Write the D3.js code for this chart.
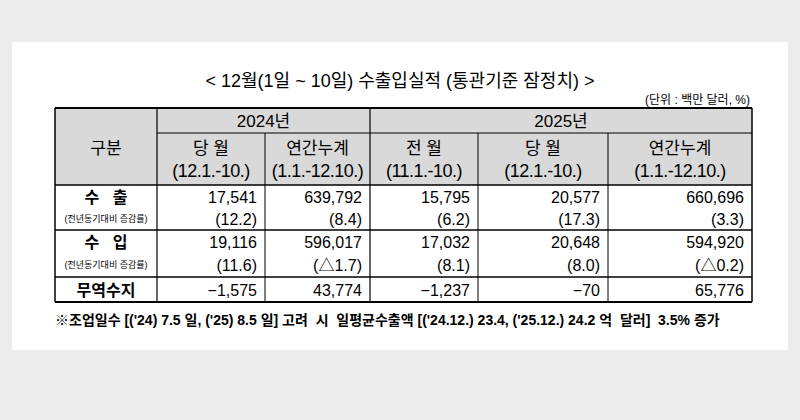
<!DOCTYPE html><html><head><meta charset="utf-8"><script src="https://cdn.jsdelivr.net/npm/d3@7"></script>
<style>body{margin:0;background:#ececec}text{font-family:"Liberation Sans","Noto Sans CJK KR",sans-serif}</style></head><body>
<svg id="c" width="800" height="420"></svg>
<script>
const title="< 12월(1일 ~ 10일) 수출입실적 (통관기준 잠정치) >";
const unit="(단위 : 백만 달러, %)";
const yearHeaders=["2024년","2025년"];
const colHeads=[["당 월","(12.1.-10.)"],["연간누계","(1.1.-12.10.)"],["전 월","(11.1.-10.)"],["당 월","(12.1.-10.)"],["연간누계","(1.1.-12.10.)"]];
const rowNames=["수   출","수   입","무역수지"];
const exportVals=["17,541","639,792","15,795","20,577","660,696"];
const exportRates=["(12.2)","(8.4)","(6.2)","(17.3)","(3.3)"];
const importVals=["19,116","596,017","17,032","20,648","594,920"];
const importRates=["(11.6)","(△1.7)","(8.1)","(8.0)","(△0.2)"];
const balanceVals=["−1,575","43,774","−1,237","−70","65,776"];
const footnote="※조업일수 [('24) 7.5 일, ('25) 8.5 일] 고려  시  일평균수출액 [('24.12.) 23.4, ('25.12.) 24.2 억  달러]  3.5% 증가";
const svg=d3.select("#c");
svg.append("rect").attr("x",12).attr("y",42).attr("width",776).attr("height",308).attr("fill","#fff");
const colEdges=[55,157,265,370,478,608,752];
const x=i=>colEdges[i];
const rowEdges=[108,133,185,230,277,302];
const y=i=>rowEdges[i];
svg.append("rect").attr("x",x(0)).attr("y",y(0)).attr("width",x(6)-x(0)).attr("height",y(2)-y(0)).attr("fill","#d9d9d9");
svg.append("text").attr("x",400).attr("y",87).attr("text-anchor","middle").attr("font-size",18).text(title);
svg.append("text").attr("x",750).attr("y",104).attr("text-anchor","end").attr("font-size",12).text(unit);
const ln=(x1,y1,x2,y2,w)=>svg.append("line").attr("x1",x1).attr("y1",y1).attr("x2",x2).attr("y2",y2).attr("stroke","#000").attr("stroke-width",w||1);
ln(x(0),y(0),x(6),y(0),2);ln(x(0),y(5),x(6),y(5),2);
ln(x(0),y(2),x(6),y(2),1.5);
ln(x(1),y(1),x(6),y(1));ln(x(0),y(3),x(6),y(3),1.5);ln(x(0),y(4),x(6),y(4),1.5);
ln(x(0),y(0),x(0),y(5),1.5);ln(x(6),y(0),x(6),y(5),1.5);
[1,3].forEach(i=>ln(x(i),y(0),x(i),y(5),1.2));
[2,4,5].forEach(i=>ln(x(i),y(1),x(i),y(5)));
const t=(tx,ty,s,sz,anchor)=>svg.append("text").attr("x",tx).attr("y",ty).attr("font-size",sz).attr("text-anchor",anchor||"middle").text(s);
t((x(1)+x(3))/2,y(0)+19,yearHeaders[0],17);t((x(3)+x(6))/2,y(0)+19,yearHeaders[1],17);
t((x(0)+x(1))/2,y(1)+21,"구분",17);
colHeads.forEach((h,i)=>{const cx=(x(i+1)+x(i+2))/2;t(cx,y(1)+21,h[0],17);t(cx,y(1)+44,h[1],18).attr("font-family","Liberation Serif").attr("letter-spacing",-0.5);});
const cw=i=>x(i+2)-8;
t((x(0)+x(1))/2,y(2)+18,rowNames[0],16).attr("font-weight","bold").style("white-space","pre");
t((x(0)+x(1))/2,y(2)+37,"(전년동기대비 증감률)",9);
t((x(0)+x(1))/2,y(3)+18,rowNames[1],16).attr("font-weight","bold").style("white-space","pre");
t((x(0)+x(1))/2,y(3)+38,"(전년동기대비 증감률)",9);
t((x(0)+x(1))/2,y(4)+19,rowNames[2],16).attr("font-weight","bold");
exportVals.forEach((v,i)=>{t(cw(i),y(2)+18,v,16,"end");t(cw(i),y(2)+40,exportRates[i],16,"end");});
importVals.forEach((v,i)=>{t(cw(i),y(3)+18,v,16,"end");t(cw(i),y(3)+41,importRates[i],16,"end");});
balanceVals.forEach((v,i)=>t(cw(i),y(4)+19,v,16,"end"));
t(55,325,footnote,14,"start").attr("font-weight","bold").attr("font-family","Noto Sans CJK KR").style("white-space","pre");
</script></body></html>
